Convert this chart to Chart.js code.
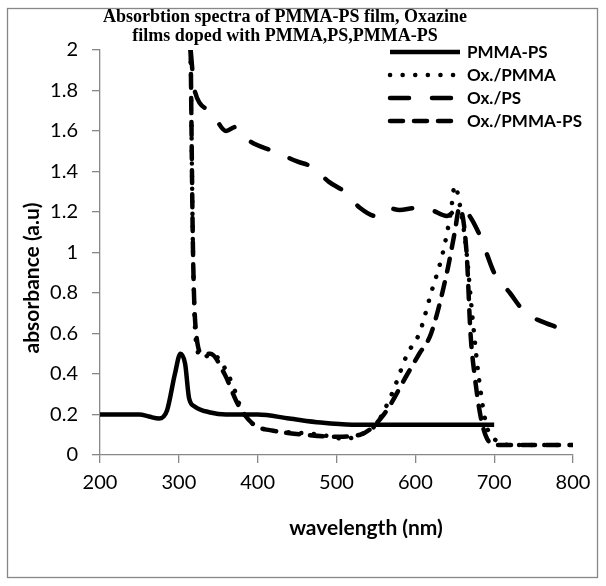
<!DOCTYPE html>
<html>
<head>
<meta charset="utf-8">
<script src="https://cdn.jsdelivr.net/npm/chart.js@4.4.1/dist/chart.umd.min.js"></script>
<style>
body { margin: 0; background: #fff; }
#wrap { position: relative; width: 606px; height: 586px; }
</style>
</head>
<body>
<div id="wrap"><canvas id="spectra" width="606" height="586"></canvas></div>
<script>
// wavelength (nm) / absorbance (a.u)
const pmmaPsWl  = [200, 250, 262, 275, 285, 295, 302, 308, 313, 320, 340, 360, 400, 440, 480, 520, 600, 700];
const pmmaPsAbs = [0.2, 0.2, 0.19, 0.18, 0.22, 0.4, 0.5, 0.45, 0.28, 0.24, 0.21, 0.2, 0.2, 0.18, 0.16, 0.15, 0.15, 0.15];

const oxPmmaWl  = [315, 318, 322, 330, 342, 355, 368, 380, 395, 420, 450, 480, 510, 530, 550, 570, 590, 605, 620, 635, 645, 650, 658, 665, 672, 680, 690, 700, 720, 760, 800];
const oxPmmaAbs = [2.0, 1.0, 0.55, 0.48, 0.5, 0.45, 0.35, 0.22, 0.15, 0.12, 0.11, 0.1, 0.08, 0.1, 0.15, 0.3, 0.5, 0.6, 0.8, 1.0, 1.2, 1.33, 1.2, 1.0, 0.7, 0.4, 0.15, 0.08, 0.05, 0.05, 0.05];

const oxPsWl  = [315, 320, 340, 360, 372, 390, 420, 450, 470, 490, 510, 530, 550, 565, 580, 600, 620, 640, 655, 665, 680, 690, 700, 720, 740, 760, 780, 800];
const oxPsAbs = [2.0, 1.8, 1.7, 1.6, 1.62, 1.55, 1.5, 1.45, 1.42, 1.35, 1.3, 1.22, 1.18, 1.22, 1.21, 1.22, 1.21, 1.18, 1.22, 1.2, 1.1, 1.0, 0.9, 0.8, 0.7, 0.66, 0.63, 0.6];

const oxPmmaPsWl  = [315, 318, 322, 330, 340, 358, 375, 395, 420, 460, 500, 530, 560, 590, 605, 620, 640, 650, 656, 665, 670, 675, 685, 700, 720, 760, 800];
const oxPmmaPsAbs = [2.0, 1.0, 0.6, 0.5, 0.5, 0.4, 0.25, 0.15, 0.12, 0.1, 0.09, 0.1, 0.2, 0.4, 0.5, 0.6, 0.9, 1.1, 1.22, 1.0, 0.6, 0.4, 0.15, 0.05, 0.05, 0.05, 0.05];

const seriesNames = ['PMMA-PS', 'Ox./PMMA', 'Ox./PS', 'Ox./PMMA-PS'];
const xTicks = [200, 300, 400, 500, 600, 700, 800];

const titleLines = ['Absorbtion spectra of PMMA-PS film, Oxazine', 'films doped with PMMA,PS,PMMA-PS'];

const toPoints = (xs, ys) => xs.map((x, i) => ({ x: x, y: ys[i] }));

const dashes = [[], [0.1, 12.5], [19, 23], [13, 11]];
const sets = [
  toPoints(pmmaPsWl, pmmaPsAbs),
  toPoints(oxPmmaWl, oxPmmaAbs),
  toPoints(oxPsWl, oxPsAbs),
  toPoints(oxPmmaPsWl, oxPmmaPsAbs)
];

const axisGray = '#878787';

// frame, title, axis titles and legend drawn by hand
const decor = {
  id: 'decor',
  beforeDraw(chart) {
    const c = chart.ctx;
    c.save();
    c.fillStyle = '#fff';
    c.fillRect(0, 0, chart.width, chart.height);
    c.strokeStyle = axisGray;
    c.lineWidth = 1.3;
    c.strokeRect(7.5, 8.5, 590, 569);
    c.restore();
  },
  afterDraw(chart) {
    const c = chart.ctx;
    c.save();
    c.fillStyle = '#000';
    c.textAlign = 'center';
    c.textBaseline = 'middle';
    c.font = 'bold 18px "Liberation Serif"';
    c.fillText(titleLines[0], 285, 17);
    c.fillText(titleLines[1], 285, 36);

    c.font = 'bold 21px Lato';
    c.fillText('wavelength (nm)', 366, 528);
    c.save();
    c.translate(32, 278);
    c.rotate(-Math.PI / 2);
    c.fillText('absorbance (a.u)', 0, 0);
    c.restore();

    // legend
    c.font = 'bold 17px Lato';
    c.textAlign = 'left';
    seriesNames.forEach((name, i) => {
      const y = 52 + i * 23;
      c.beginPath();
      c.setLineDash(dashes[i]);
      c.lineCap = i === 0 ? 'butt' : 'round';
      c.lineWidth = 4.5;
      c.strokeStyle = '#000';
      c.moveTo(390, y);
      c.lineTo(460, y);
      c.stroke();
      c.setLineDash([]);
      c.fillText(name, 467, y + 1);
    });
    c.restore();
  }
};

new Chart(document.getElementById('spectra').getContext('2d'), {
  type: 'line',
  data: {
    datasets: sets.map((pts, i) => ({
      label: seriesNames[i],
      data: pts,
      borderColor: '#000',
      borderWidth: 4.5,
      borderDash: dashes[i],
      borderCapStyle: i === 0 ? 'butt' : 'round',
      borderJoinStyle: 'round',
      pointRadius: 0,
      cubicInterpolationMode: 'monotone',
      fill: false
    }))
  },
  options: {
    responsive: false,
    animation: false,
    layout: { padding: { left: 0, right: 33, top: 50, bottom: 91 } },
    plugins: { legend: { display: false }, title: { display: false }, tooltip: { enabled: false } },
    scales: {
      x: {
        type: 'linear',
        min: 200,
        max: 800,
        afterFit: s => { s.height = 40; },
        afterBuildTicks: s => { s.ticks = xTicks.map(v => ({ value: v })); },
        ticks: { color: '#000', font: { family: 'Lato', size: 20 }, padding: 8, maxRotation: 0 },
        grid: { drawOnChartArea: false, tickLength: 8, color: axisGray, lineWidth: 1.3 },
        border: { color: axisGray, width: 1.3 }
      },
      y: {
        min: 0,
        max: 2,
        afterFit: s => { s.width = 100; },
        ticks: {
          stepSize: 0.2,
          color: '#000',
          font: { family: 'Lato', size: 20 },
          padding: 14,
          callback: v => String(Math.round(v * 10) / 10)
        },
        grid: { drawOnChartArea: false, tickLength: 8, color: axisGray, lineWidth: 1.3 },
        border: { color: axisGray, width: 1.3 }
      }
    }
  },
  plugins: [decor]
});
</script>
</body>
</html>
